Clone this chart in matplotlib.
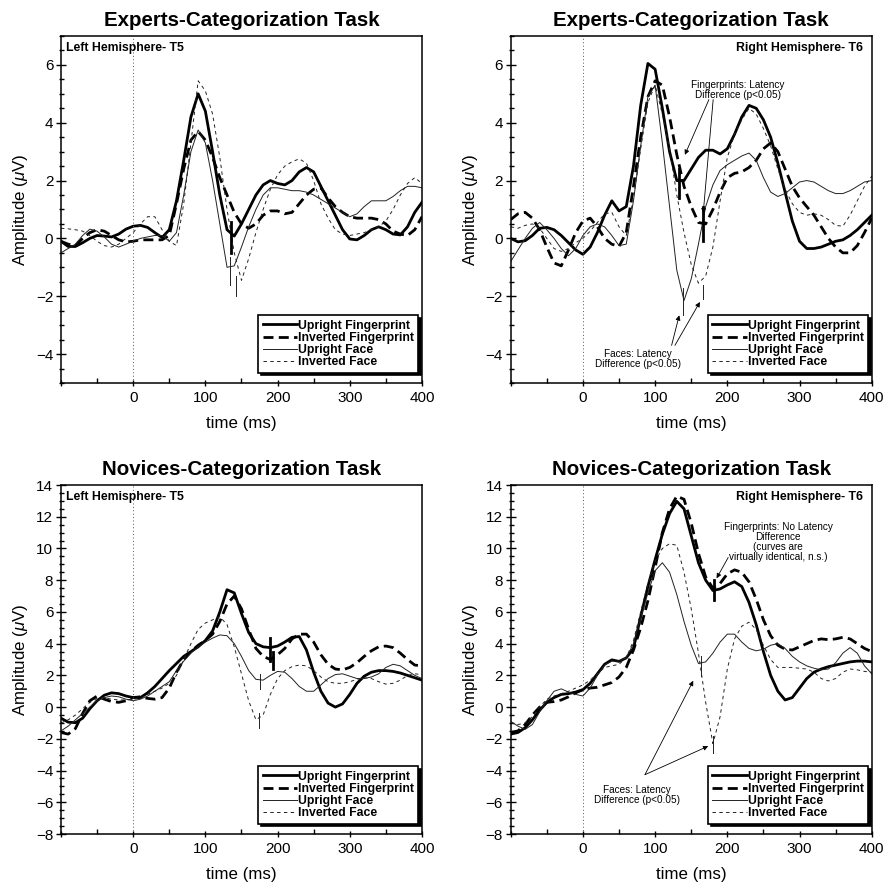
import numpy as np
import matplotlib.pyplot as plt
from matplotlib.ticker import MultipleLocator

plt.rcParams['font.family'] = ['Liberation Sans', 'DejaVu Sans']
plt.rcParams['mathtext.fontset'] = 'custom'
plt.rcParams['mathtext.it'] = 'Liberation Sans:italic'

# sample grid of the ERP waveforms (ms)
time = np.arange(-100, 401, 10)

series_names = ['Upright Fingerprint', 'Inverted Fingerprint', 'Upright Face', 'Inverted Face']

# ---- Experts, left hemisphere (T5) ----
exp_left_up_fp = [-0.1, -0.28, -0.28, -0.15, 0.0, 0.1, 0.08, 0.05, 0.15, 0.32,
                  0.42, 0.45, 0.38, 0.2, 0.03, 0.3, 1.3, 2.7, 4.2, 5.0,
                  4.4, 3.0, 1.5, 0.3, 0.08, 0.5, 1.0, 1.5, 1.85, 2.0,
                  1.9, 1.85, 2.0, 2.3, 2.45, 2.3, 1.8, 1.3, 0.8, 0.3,
                  -0.02, -0.05, 0.1, 0.3, 0.4, 0.3, 0.15, 0.12, 0.4, 0.9,
                  1.25]
exp_left_inv_fp = [-0.1, -0.2, -0.25, 0.0, 0.2, 0.3, 0.25, 0.1, -0.05, -0.12,
                   -0.1, -0.05, -0.05, -0.05, -0.05, 0.1, 1.2, 2.4, 3.4, 3.7,
                   3.4, 2.8, 2.1, 1.5, 0.9, 0.5, 0.35, 0.5, 0.8, 0.95,
                   0.95, 0.85, 0.9, 1.2, 1.5, 1.7, 1.75, 1.4, 1.1, 0.9,
                   0.75, 0.7, 0.7, 0.7, 0.65, 0.5, 0.25, 0.15, 0.1, 0.3,
                   0.75]
exp_left_up_face = [-0.5, -0.35, -0.2, 0.1, 0.32, 0.25, 0.05, -0.2, -0.3, -0.2,
                    -0.1, 0.0, 0.05, 0.1, 0.1, -0.1, 0.2, 1.5, 3.0, 3.75,
                    3.3, 2.0, 0.5, -1.0, -0.95, -0.3, 0.4, 1.0, 1.5, 1.75,
                    1.75, 1.7, 1.65, 1.65, 1.6, 1.5, 1.35, 1.2, 1.05, 0.9,
                    0.75, 0.85, 1.1, 1.3, 1.3, 1.3, 1.45, 1.65, 1.8, 1.8,
                    1.75]
exp_left_inv_face = [0.35, 0.33, 0.3, 0.25, 0.1, -0.1, -0.25, -0.3, -0.2, 0.0,
                     0.2, 0.5, 0.75, 0.75, 0.3, -0.1, -0.25, 1.2, 3.3, 5.45,
                     5.1, 4.3, 2.8, 1.0, -0.5, -1.45, -0.7, 0.2, 1.0, 1.7,
                     2.2, 2.5, 2.65, 2.75, 2.6, 2.0, 1.2, 0.7, 0.3, 0.15,
                     0.1, 0.15, 0.2, 0.3, 0.4, 0.6, 1.0, 1.5, 1.9, 2.1,
                     1.9]

# ---- Experts, right hemisphere (T6) ----
exp_right_up_fp = [0.0, -0.12, -0.08, 0.1, 0.35, 0.38, 0.3, 0.1, -0.15, -0.4,
                   -0.55, -0.3, 0.2, 0.8, 1.3, 0.95, 1.1, 2.5, 4.6, 6.05,
                   5.85, 4.5, 3.0, 2.0, 2.0, 2.4, 2.8, 3.05, 3.05, 2.92,
                   3.1, 3.6, 4.2, 4.6, 4.5, 4.1, 3.5, 2.6, 1.6, 0.6,
                   -0.1, -0.35, -0.35, -0.3, -0.2, -0.1, -0.05, 0.1, 0.3, 0.55,
                   0.8]
exp_right_inv_fp = [0.65, 0.85, 0.9, 0.7, 0.3, -0.3, -0.85, -0.95, -0.4, 0.2,
                    0.6, 0.7, 0.4, 0.0, -0.2, -0.28, 0.2, 1.8, 3.5, 4.9,
                    5.45, 5.3, 4.2, 2.9, 1.8, 1.1, 0.55, 0.5, 1.0, 1.6,
                    2.1, 2.25, 2.3, 2.45, 2.7, 3.1, 3.3, 3.0, 2.4, 1.8,
                    1.4, 1.1, 0.8, 0.4, 0.0, -0.3, -0.5, -0.5, -0.25, 0.2,
                    0.7]
exp_right_up_face = [-0.8, -0.4, 0.0, 0.35, 0.55, 0.3, 0.0, -0.35, -0.6, -0.35,
                     0.1, 0.4, 0.5, 0.4, 0.1, -0.25, -0.2, 1.3, 3.2, 4.9,
                     5.3, 3.3, 1.1, -1.1, -2.15, -1.4, -0.2, 1.1, 1.85, 2.35,
                     2.55, 2.7, 2.85, 2.95, 2.7, 2.1, 1.6, 1.45, 1.55, 1.75,
                     1.95, 2.0, 1.95, 1.8, 1.65, 1.55, 1.55, 1.65, 1.8, 1.95,
                     2.0]
exp_right_inv_face = [0.4, 0.35, 0.45, 0.5, 0.35, 0.0, -0.35, -0.45, -0.35, -0.15,
                      0.0, 0.25, 0.55, 0.85, 0.9, 0.4, 0.1, 1.4, 3.1, 4.7,
                      5.3, 4.3, 3.1, 1.5, 0.2, -0.9, -1.55, -1.3, -0.3, 1.3,
                      2.8, 3.6, 4.1, 4.5, 4.3, 3.8, 3.2, 2.4, 1.7, 1.2,
                      0.9, 0.8, 0.85, 0.8, 0.65, 0.45, 0.42, 0.8, 1.3, 1.8,
                      2.15]

# ---- Novices, left hemisphere (T5) ----
nov_left_up_fp = [-0.7, -0.95, -0.98, -0.7, -0.1, 0.4, 0.75, 0.9, 0.85, 0.7,
                  0.6, 0.6, 0.9, 1.3, 1.8, 2.3, 2.75, 3.2, 3.5, 3.8,
                  4.2, 4.8, 6.0, 7.4, 7.2, 5.9, 4.7, 4.0, 3.8, 3.75,
                  3.85, 4.1, 4.4, 4.45, 3.6, 2.2, 1.0, 0.25, 0.0, 0.2,
                  0.8, 1.5, 1.95, 2.2, 2.3, 2.3, 2.25, 2.15, 2.0, 1.85,
                  1.7]
nov_left_inv_fp = [-1.6, -1.7, -1.35, -0.4, 0.4, 0.7, 0.5, 0.35, 0.3, 0.4,
                   0.6, 0.65, 0.55, 0.5, 0.6, 1.2, 2.2, 3.0, 3.5, 3.9,
                   4.2, 4.6, 5.4, 6.5, 7.0, 6.2, 4.9, 3.7, 3.2, 3.0,
                   3.3, 3.7, 4.3, 4.6, 4.6, 4.1, 3.3, 2.7, 2.4, 2.35,
                   2.5, 2.8, 3.2, 3.55, 3.8, 3.85, 3.75, 3.4, 3.0, 2.65,
                   2.6]
nov_left_up_face = [-1.5, -1.2, -0.8, -0.4, 0.0, 0.4, 0.6, 0.7, 0.65, 0.5,
                    0.4, 0.5, 0.7, 1.0, 1.3, 1.6, 2.3, 2.9, 3.4, 3.8,
                    4.1, 4.35, 4.55, 4.5, 4.0, 3.2, 2.3, 1.75, 1.7, 2.0,
                    2.25, 2.2, 1.8, 1.3, 1.0, 1.0, 1.4, 1.8, 2.05, 2.1,
                    1.95, 1.8, 1.8, 1.9, 2.1, 2.5, 2.7, 2.6, 2.3, 2.0,
                    1.8]
nov_left_inv_face = [-1.0, -0.8, -0.5, -0.1, 0.3, 0.55, 0.6, 0.5, 0.45, 0.45,
                     0.5, 0.55, 0.8, 1.0, 1.2, 1.5, 2.0, 3.0, 4.0, 4.9,
                     5.3, 5.5, 5.7, 5.2, 3.8, 2.1, 0.4, -0.8, -0.5, 0.8,
                     1.8, 2.3, 2.55, 2.65, 2.6, 2.3, 1.9, 1.6, 1.5, 1.5,
                     1.6, 1.75, 1.85, 1.8, 1.6, 1.45, 1.5, 1.7, 2.0, 2.1,
                     2.05]

# ---- Novices, right hemisphere (T6) ----
nov_right_up_fp = [-1.7, -1.6, -1.3, -0.8, -0.2, 0.3, 0.6, 0.8, 0.85, 0.95,
                   1.1, 1.5, 2.1, 2.7, 2.98, 2.88, 3.1, 3.7, 5.7, 7.6,
                   9.3, 10.9, 12.2, 12.97, 12.5, 10.8, 9.1, 8.0, 7.35, 7.45,
                   7.7, 7.9, 7.6, 6.6, 5.2, 3.5, 2.0, 1.0, 0.45, 0.6,
                   1.2, 1.8, 2.2, 2.4, 2.55, 2.65, 2.75, 2.85, 2.9, 2.9,
                   2.85]
nov_right_inv_fp = [-1.6, -1.5, -1.1, -0.5, 0.0, 0.3, 0.35, 0.45, 0.65, 0.9,
                    1.1, 1.2, 1.25, 1.4, 1.55, 1.9, 2.5, 3.6, 5.0, 6.7,
                    8.8, 11.0, 12.5, 13.3, 13.1, 11.6, 9.7, 8.2, 7.5, 7.8,
                    8.4, 8.65, 8.5, 7.9, 6.8, 5.5, 4.5, 3.9, 3.65, 3.6,
                    3.8, 4.0, 4.2, 4.3, 4.25, 4.3, 4.4, 4.3, 4.0, 3.7,
                    3.5]
nov_right_up_face = [-0.9, -1.2, -1.4, -1.1, -0.3, 0.4, 1.0, 1.15, 0.95, 0.8,
                     0.7, 1.2, 2.0, 2.65, 2.9, 2.9, 3.1, 4.0, 5.6, 7.2,
                     8.6, 9.1, 8.5, 7.1, 5.4, 3.9, 2.75, 2.85, 3.4, 4.1,
                     4.6, 4.6, 4.1, 3.7, 3.55, 3.65, 3.9, 4.0, 3.7, 3.2,
                     2.85, 2.6, 2.45, 2.35, 2.4, 2.8, 3.4, 3.75, 3.4, 2.6,
                     2.1]
nov_right_inv_face = [-1.0, -1.1, -1.0, -0.6, 0.0, 0.5, 0.7, 0.85, 1.0, 1.2,
                      1.4, 1.7, 2.1, 2.5, 2.6, 2.7, 3.1, 4.2, 6.0, 7.8,
                      9.2, 10.0, 10.3, 10.2, 8.5, 6.2, 3.4, 0.3, -2.3, -0.6,
                      2.4, 4.3, 5.1, 5.35, 4.9, 3.9, 3.0, 2.5, 2.5, 2.5,
                      2.45, 2.4, 2.2, 1.8, 1.65, 1.8, 2.2, 2.4, 2.35, 2.25,
                      2.2]

# latency markers: (series index, time, top, bottom)
exp_left_marks = [(0, 135, 0.58, -0.52), (2, 134, -0.64, -1.62), (3, 142, -1.3, -2.0)]
exp_right_marks = [(0, 133, 2.4, 1.4), (1, 166, 1.1, -0.1), (2, 138, -1.7, -2.65), (3, 166, -1.6, -2.1)]
nov_left_marks = [(0, 190, 4.37, 2.93), (1, 194, 3.46, 2.4), (2, 176, 2.09, 1.14), (3, 174, -0.35, -1.3)]
nov_right_marks = [(0, 182, 8.0, 6.74), (2, 164, 3.25, 1.98), (3, 180, -1.8, -2.9)]

styles = [dict(color='black', lw=2.0, ls='-'),
          dict(color='black', lw=2.0, ls=(0, (3.6, 1.9))),
          dict(color='#222222', lw=0.7, ls='-'),
          dict(color='#222222', lw=0.7, ls=(0, (3.5, 3.5)))]


def panel(ax, data, marks, title, hemi, left, ylim, arrows, notes):
    for vals, st, name in zip(data, styles, series_names):
        ax.plot(time, vals, label=name, **st)
    for idx, t, top, bot in marks:
        st = dict(styles[idx])
        st['ls'] = '-'
        ax.plot([t, t], [top, bot], **st)
    ax.axvline(0, color='#555555', lw=0.7, ls=(0, (1, 2.5)))
    ax.set_xlim(-100, 400)
    ax.set_ylim(*ylim)
    ax.set_xticks([-100, 0, 100, 200, 300, 400])
    ax.set_xticklabels(['', '0', '100', '200', '300', '400'])
    ax.xaxis.set_minor_locator(MultipleLocator(50))
    ax.yaxis.set_minor_locator(MultipleLocator(0.5))
    lo = ylim[0] if ylim[0] % 2 == 0 else ylim[0] + 1
    ax.set_yticks(np.arange(lo, ylim[1] + 0.1, 2))
    ax.tick_params(axis='y', which='major', direction='inout', length=7, width=1.0, labelsize=11, pad=2)
    ax.tick_params(axis='y', which='minor', direction='inout', length=3.6, width=1.0)
    ax.tick_params(axis='x', which='major', direction='inout', length=5, width=1.0, labelsize=11, pad=3)
    ax.tick_params(axis='x', which='minor', direction='in', length=3.5, width=1.0)
    for s in ax.spines.values():
        s.set_linewidth(1.1)
    ax.set_title(title, fontsize=14.8, fontweight='bold', pad=7)
    ax.set_xlabel('time (ms)', fontsize=12.2, labelpad=8)
    ax.set_ylabel(r'Amplitude ($\mu$V)', fontsize=12.2, labelpad=4)
    if left:
        ax.text(0.015, 0.965, hemi, transform=ax.transAxes, fontsize=8.8, fontweight='bold',
                ha='left', va='center')
    else:
        ax.text(0.975, 0.965, hemi, transform=ax.transAxes, fontsize=8.8, fontweight='bold',
                ha='right', va='center')
    for start, tip in arrows:
        ax.annotate('', xy=tip, xytext=start,
                    arrowprops=dict(arrowstyle='-|>', lw=0.6, color='black', mutation_scale=7,
                                    shrinkA=0, shrinkB=0))
    for (x, y), txt in notes:
        ax.text(x, y, txt, fontsize=7.2, ha='center', va='center', linespacing=1.0)
    leg = ax.legend(loc='lower right', bbox_to_anchor=(0.99, 0.03), borderaxespad=0,
                    prop=dict(weight='bold', size=8.8), handlelength=2.8, handletextpad=0.1,
                    labelspacing=0.02, borderpad=0.35, fancybox=False,
                    shadow=dict(color='black', alpha=1.0), framealpha=1)
    leg.get_frame().set_edgecolor('black')
    leg.get_frame().set_linewidth(1.2)


fig = plt.figure(figsize=(8.85, 8.82), dpi=100)
ax1 = fig.add_axes([0.0689, 0.5658, 0.4079, 0.3934])
ax2 = fig.add_axes([0.5771, 0.5658, 0.4079, 0.3934])
ax3 = fig.add_axes([0.0689, 0.0544, 0.4079, 0.3957])
ax4 = fig.add_axes([0.5771, 0.0544, 0.4079, 0.3957])

panel(ax1, [exp_left_up_fp, exp_left_inv_fp, exp_left_up_face, exp_left_inv_face],
      exp_left_marks, 'Experts-Categorization Task', 'Left Hemisphere- T5', True, (-5, 7), [], [])

panel(ax2, [exp_right_up_fp, exp_right_inv_fp, exp_right_up_face, exp_right_inv_face],
      exp_right_marks, 'Experts-Categorization Task', 'Right Hemisphere- T6', False, (-5, 7),
      [((174.5, 4.8), (141.2, 2.89)), ((180.4, 4.8), (166.6, 0.87)),
       ((122.8, -3.7), (133.4, -2.66)), ((127.4, -3.7), (162.0, -2.2))],
      [((214.6, 5.12), 'Fingerprints: Latency\nDifference (p<0.05)'),
       ((76.6, -4.16), 'Faces: Latency\nDifference (p<0.05)')])

panel(ax3, [nov_left_up_fp, nov_left_inv_fp, nov_left_up_face, nov_left_inv_face],
      nov_left_marks, 'Novices-Categorization Task', 'Left Hemisphere- T5', True, (-8, 14), [], [])

panel(ax4, [nov_right_up_fp, nov_right_inv_fp, nov_right_up_face, nov_right_inv_face],
      nov_right_marks, 'Novices-Categorization Task', 'Right Hemisphere- T6', False, (-8, 14),
      [((201.2, 9.43), (185.1, 8.12)),
       ((85.9, -4.26), (152.8, 1.66)), ((85.9, -4.26), (173.5, -2.46))],
      [((270.4, 10.38), 'Fingerprints: No Latency\nDifference\n(curves are\nvirtually identical, n.s.)'),
       ((74.9, -5.55), 'Faces: Latency\nDifference (p<0.05)')])

fig.savefig('out.png', dpi=100)
